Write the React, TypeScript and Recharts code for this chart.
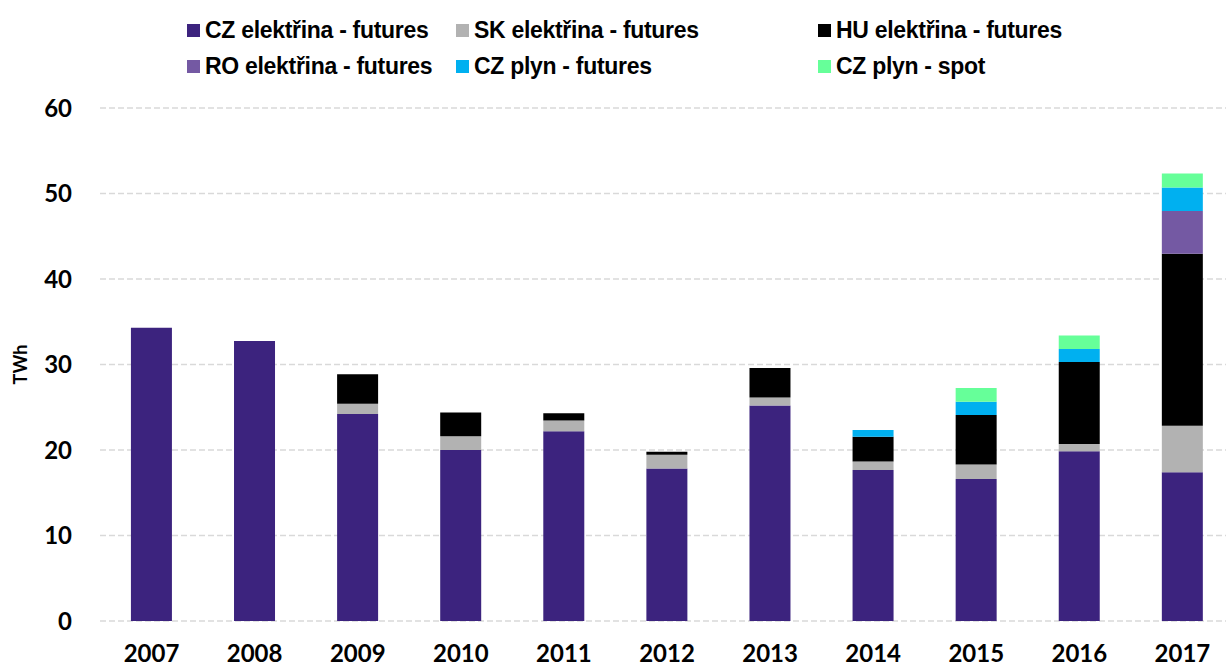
import React from "react";
import { BarChart, Bar, XAxis, YAxis, CartesianGrid, Legend } from "recharts";

const years = ["2007", "2008", "2009", "2010", "2011", "2012", "2013", "2014", "2015", "2016", "2017"];
const czElektrina = [34.3, 32.75, 24.2, 20.0, 22.2, 17.85, 25.2, 17.65, 16.6, 19.85, 17.4];
const skElektrina = [0, 0, 1.2, 1.6, 1.25, 1.6, 0.95, 1.0, 1.7, 0.85, 5.45];
const huElektrina = [0, 0, 3.45, 2.8, 0.85, 0.35, 3.45, 2.9, 5.8, 9.6, 20.1];
const roElektrina = [0, 0, 0, 0, 0, 0, 0, 0, 0, 0, 5.0];
const czPlynFutures = [0, 0, 0, 0, 0, 0, 0, 0.8, 1.55, 1.5, 2.75];
const czPlynSpot = [0, 0, 0, 0, 0, 0, 0, 0, 1.6, 1.6, 1.65];
const yTicks = [0, 10, 20, 30, 40, 50, 60];
const boundaryTicks = Array.from({ length: years.length + 1 }, (_, i) => i);

const series = [
  { key: "cz", name: "CZ elektřina - futures", color: "#3c237e", values: czElektrina },
  { key: "sk", name: "SK elektřina - futures", color: "#b2b2b2", values: skElektrina },
  { key: "hu", name: "HU elektřina - futures", color: "#000000", values: huElektrina },
  { key: "ro", name: "RO elektřina - futures", color: "#7459a3", values: roElektrina },
  { key: "plyn", name: "CZ plyn - futures", color: "#00b0f0", values: czPlynFutures },
  { key: "spot", name: "CZ plyn - spot", color: "#66ff99", values: czPlynSpot },
];

const data = years.map((y, i) => {
  const row: Record<string, number | string> = { year: y };
  series.forEach((s) => (row[s.key] = s.values[i]));
  return row;
});

const legendPos = [
  { x: 187, y: 30 },
  { x: 456, y: 30 },
  { x: 818, y: 30 },
  { x: 187, y: 66 },
  { x: 456, y: 66 },
  { x: 818, y: 66 },
];

const LegendContent = () => (
  <div style={{ position: "relative", width: 1226, height: 90 }}>
    {series.map((s, i) => (
      <div
        key={s.key}
        style={{
          position: "absolute",
          left: legendPos[i].x,
          top: legendPos[i].y - 14,
          height: 28,
          display: "flex",
          alignItems: "center",
          whiteSpace: "nowrap",
        }}
      >
        <span style={{ display: "inline-block", width: 13, height: 13, background: s.color, marginRight: 5 }} />
        <span
          style={{
            fontFamily: "'Liberation Sans', Arial, sans-serif",
            fontWeight: "bold",
            fontSize: 23,
            color: "#000",
            letterSpacing: -0.3,
          }}
        >
          {s.name}
        </span>
      </div>
    ))}
  </div>
);

const tickFont = { fontFamily: "Lato, sans-serif", fontWeight: 700, fontSize: 24, fill: "#000" };

export default function App() {
  return (
    <div style={{ position: "absolute", left: 0, top: 0, width: 1226, height: 668, overflow: "hidden", background: "#fff" }}>
      <BarChart
        width={1250}
        height={668}
        data={data}
        margin={{ top: 18, right: 16, left: 0, bottom: 0 }}
        barCategoryGap="30%"
      >
        <CartesianGrid vertical={false} xAxisId="cat" stroke="#d9d9d9" strokeDasharray="6 3" strokeWidth={1.5} />
        <XAxis
          xAxisId="bounds"
          type="number"
          domain={[0, years.length]}
          ticks={boundaryTicks}
          height={0}
          tick={false}
          axisLine={{ stroke: "#868686", strokeWidth: 2 }}
          tickLine={{ stroke: "#868686", strokeWidth: 2 }}
          tickSize={8}
        />
        <XAxis
          xAxisId="cat"
          dataKey="year"
          height={47}
          tick={tickFont}
          axisLine={false}
          tickLine={false}
          tickSize={8}
          tickMargin={16}
          interval={0}
          scale="band"
        />
        <YAxis
          width={100}
          domain={[0, 60]}
          ticks={yTicks}
          tick={tickFont}
          axisLine={false}
          tickLine={false}
          tickSize={0}
          tickMargin={28}
          label={{
            value: "TWh",
            angle: -90,
            position: "insideLeft",
            offset: 21,
            style: { fontFamily: "Lato, sans-serif", fontWeight: 700, fontSize: 18, fill: "#000", textAnchor: "middle" },
          }}
        />
        <Legend verticalAlign="top" align="left" height={90} content={<LegendContent />} wrapperStyle={{ top: 0, left: 0, width: 1226 }} />
        {series.map((s) => (
          <Bar key={s.key} xAxisId="cat" dataKey={s.key} name={s.name} stackId="a" fill={s.color} isAnimationActive={false} />
        ))}
      </BarChart>
    </div>
  );
}
